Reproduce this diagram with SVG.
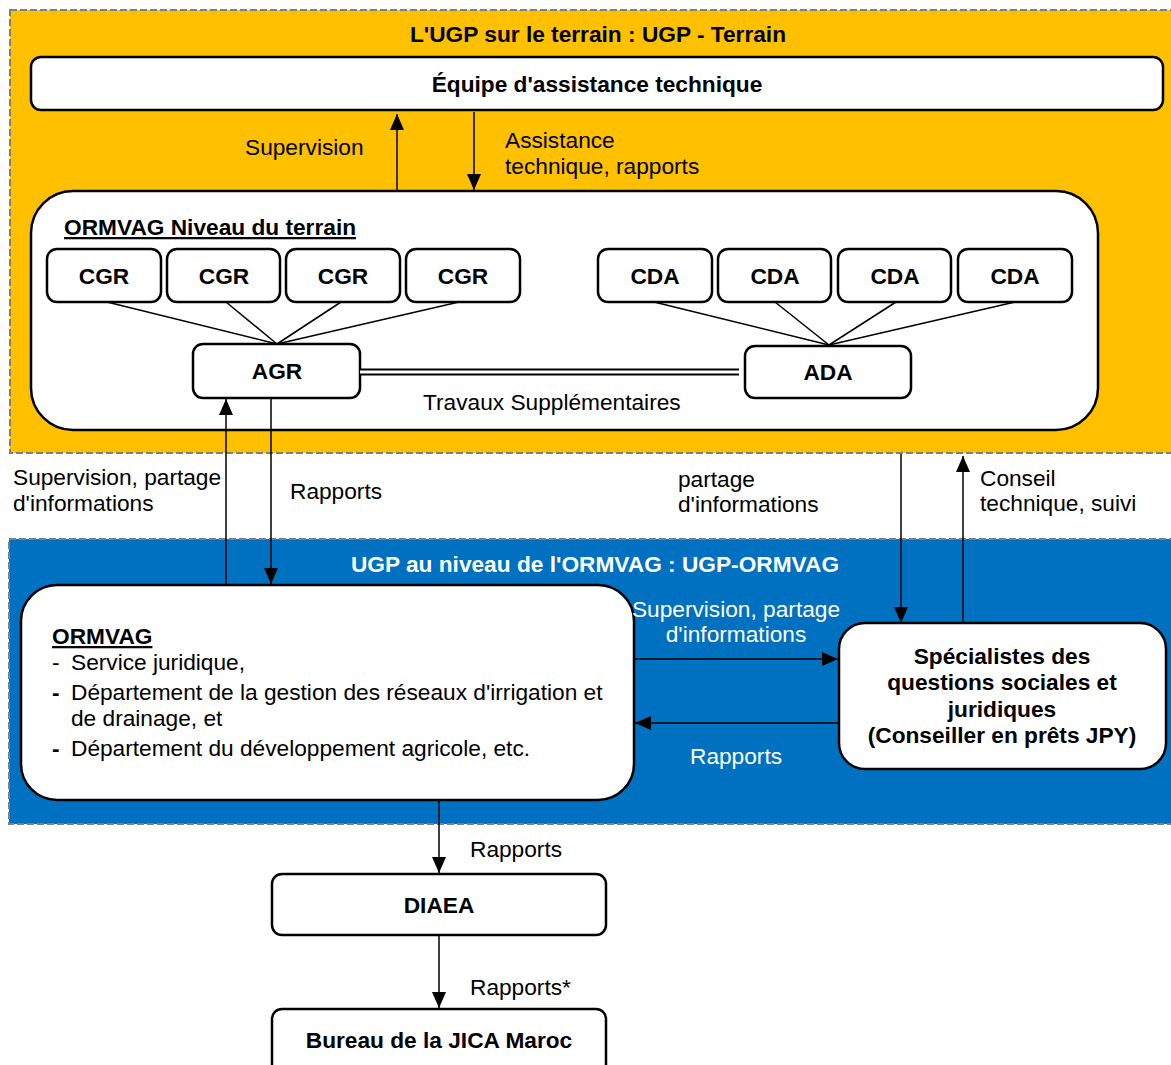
<svg xmlns="http://www.w3.org/2000/svg" width="1171" height="1065" viewBox="0 0 1171 1065">
<defs>
<marker id="ah" markerUnits="userSpaceOnUse" markerWidth="16" markerHeight="16" viewBox="0 0 16 16" refX="16" refY="8" orient="auto">
<path d="M0,1 L16,8 L0,15 Z" fill="#000"/>
</marker>
</defs>
<style>
text{font-family:"Liberation Sans",Arial,sans-serif;font-size:22.7px;fill:#000}
.b{font-weight:bold}
.c{text-anchor:middle}
.w{fill:#fff}
.u{text-decoration:underline}
.box{fill:#fff;stroke:#000;stroke-width:2.5}
.con{stroke:#000;stroke-width:1.5;fill:none}
.arr{stroke:#000;stroke-width:1.5;fill:none;marker-end:url(#ah)}
.zone{stroke:#7f7f7f;stroke-width:2;stroke-dasharray:7 3}
</style>

<g id="zone-terrain">
<rect class="zone" x="10" y="10" width="1175" height="443" fill="#FFC000"/>
<text class="b c" x="598" y="42">L'UGP sur le terrain : UGP - Terrain</text>
</g>
<g id="zone-ormvag">
<rect class="zone" x="9" y="539" width="1175" height="285" fill="#0070C0"/>
<text class="b c w" x="595" y="572">UGP au niveau de l'ORMVAG : UGP-ORMVAG</text>
</g>

<g id="equipe">
<rect class="box" x="31" y="57" width="1132" height="53" rx="10"/>
<text class="b c" x="597" y="92">Équipe d'assistance technique</text>
</g>

<g id="ormvag-terrain">
<rect class="box" x="31" y="191" width="1067" height="239" rx="42"/>
<text class="b u" x="64" y="235">ORMVAG Niveau du terrain</text>
</g>

<g id="cgr1"><rect class="box" x="47" y="249" width="114" height="53" rx="10"/><text class="b c" x="104" y="284">CGR</text></g>
<g id="cgr2"><rect class="box" x="167" y="249" width="113" height="53" rx="10"/><text class="b c" x="224" y="284">CGR</text></g>
<g id="cgr3"><rect class="box" x="286" y="249" width="114" height="53" rx="10"/><text class="b c" x="343" y="284">CGR</text></g>
<g id="cgr4"><rect class="box" x="406" y="249" width="114" height="53" rx="10"/><text class="b c" x="463" y="284">CGR</text></g>

<g id="cda1"><rect class="box" x="598" y="249" width="114" height="53" rx="10"/><text class="b c" x="655" y="284">CDA</text></g>
<g id="cda2"><rect class="box" x="718" y="249" width="113" height="53" rx="10"/><text class="b c" x="775" y="284">CDA</text></g>
<g id="cda3"><rect class="box" x="838" y="249" width="113" height="53" rx="10"/><text class="b c" x="895" y="284">CDA</text></g>
<g id="cda4"><rect class="box" x="958" y="249" width="114" height="53" rx="10"/><text class="b c" x="1015" y="284">CDA</text></g>

<g id="agr"><rect class="box" x="193" y="344" width="167" height="54" rx="10"/><text class="b c" x="277" y="379">AGR</text></g>
<g id="ada"><rect class="box" x="745" y="346" width="166" height="52" rx="10"/><text class="b c" x="828" y="380">ADA</text></g>

<g id="ormvag">
<rect class="box" x="21" y="585" width="613" height="215" rx="36"/>
<text class="b u" x="52" y="644">ORMVAG</text>
<text x="52" y="670">-</text><text x="71" y="670">Service juridique,</text>
<text class="b" x="52" y="700">-</text><text x="71" y="700">Département de la gestion des réseaux d'irrigation et</text>
<text x="71" y="726">de drainage, et</text>
<text class="b" x="52" y="756">-</text><text x="71" y="756">Département du développement agricole, etc.</text>
</g>

<g id="specialistes">
<rect class="box" x="839" y="623" width="327" height="146" rx="26"/>
<text class="b c" x="1002" y="664">Spécialistes des</text>
<text class="b c" x="1002" y="690">questions sociales et</text>
<text class="b c" x="1002" y="717">juridiques</text>
<text class="b c" x="1002" y="743">(Conseiller en prêts JPY)</text>
</g>

<g id="diaea"><rect class="box" x="272" y="874" width="334" height="61" rx="10"/><text class="b c" x="439" y="913">DIAEA</text></g>
<g id="jica"><rect class="box" x="272" y="1009" width="334" height="70" rx="10"/><text class="b c" x="439" y="1048">Bureau de la JICA Maroc</text></g>

<g id="connectors">
<line class="arr" x1="397" y1="191" x2="397" y2="114"/>
<line class="arr" x1="474" y1="112" x2="474" y2="190"/>
<line class="con" x1="107" y1="302" x2="277" y2="344"/>
<line class="con" x1="226" y1="302" x2="277" y2="344"/>
<line class="con" x1="341" y1="302" x2="277" y2="344"/>
<line class="con" x1="459" y1="302" x2="277" y2="344"/>
<line class="con" x1="654" y1="302" x2="829" y2="345"/>
<line class="con" x1="775" y1="302" x2="829" y2="345"/>
<line class="con" x1="896" y1="302" x2="829" y2="345"/>
<line class="con" x1="1015" y1="302" x2="829" y2="345"/>
<line x1="360" y1="372" x2="739" y2="372" stroke="#000" stroke-width="7"/>
<line x1="360" y1="372" x2="739" y2="372" stroke="#fff" stroke-width="3"/>
<line class="arr" x1="226" y1="586" x2="226" y2="399"/>
<line class="arr" x1="271" y1="398" x2="271" y2="584"/>
<line class="arr" x1="901" y1="454" x2="901" y2="623"/>
<line class="arr" x1="963" y1="623" x2="963" y2="456"/>
<line class="arr" x1="634" y1="659" x2="838" y2="659"/>
<line class="arr" x1="839" y1="723" x2="635" y2="723"/>
<line class="arr" x1="439" y1="800" x2="439" y2="873"/>
<line class="arr" x1="439" y1="935" x2="439" y2="1008"/>
</g>

<g id="labels">
<text x="245" y="155">Supervision</text>
<text x="505" y="148">Assistance</text>
<text x="505" y="174">technique, rapports</text>
<text x="423" y="410">Travaux Supplémentaires</text>
<text x="13" y="485">Supervision, partage</text>
<text x="13" y="511">d'informations</text>
<text x="290" y="499">Rapports</text>
<text x="678" y="487">partage</text>
<text x="678" y="512">d'informations</text>
<text x="980" y="486">Conseil</text>
<text x="980" y="511">technique, suivi</text>
<text class="c w" x="736" y="617">Supervision, partage</text>
<text class="c w" x="736" y="642">d'informations</text>
<text class="w" x="690" y="764">Rapports</text>
<text x="470" y="857">Rapports</text>
<text x="470" y="995">Rapports*</text>
</g>
</svg>
